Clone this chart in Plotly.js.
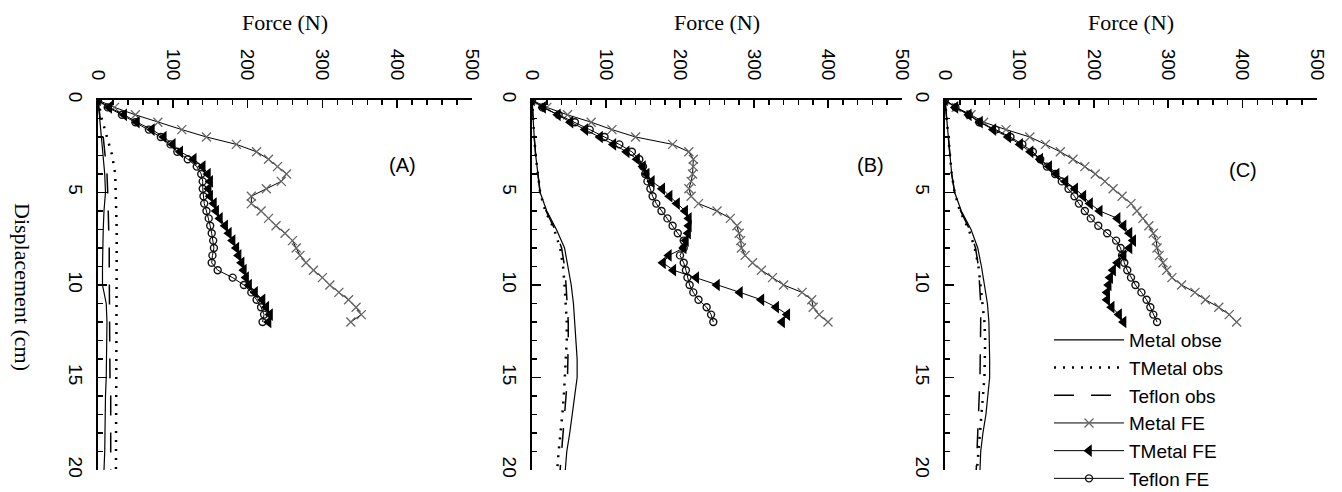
<!DOCTYPE html>
<html>
<head>
<meta charset="utf-8">
<script src="https://cdn.plot.ly/plotly-3.0.1.min.js"></script>
<style>html,body{margin:0;padding:0;background:#fff;}#chart{width:1342px;height:492px;}</style>
</head>
<body>
<div id="chart"></div>
<script>
// Displacement (cm) sample positions
const dispFE = [0,0.4,0.8,1.2,1.6,2.0,2.4,2.8,3.2,3.6,4.0,4.4,4.8,5.2,5.6,6.0,6.4,6.8,7.2,7.6,8.0,8.4,8.8,9.2,9.6,10.0,10.4,10.8,11.2,11.6,12.0];
const dispObs = [0,1,2,3,4,5,6,7,8,9,10,11,12,13,14,15,16,17,18,19,20];

// Panel A forces (N)
const A_metalObs  = [0,2,4,7,9,10,8,7,6,6,6,11,12,12,12,11,10,10,9,9,8];
const A_tmetalObs = [0,5,12,19,23,24,24,25,25,25,25,25,25,25,25,25,25,25,25,24,24];
const A_teflonObs = [0,3,7,10,12,13,14,14,15,15,15,16,16,16,16,16,17,17,17,17,17];
const A_metalFE  = [0,22,50,80,112,145,185,212,228,240,252,245,225,205,205,218,228,238,250,260,265,270,278,288,300,310,322,335,345,352,338];
const A_tmetalFE = [0,15,35,52,72,88,100,110,128,140,147,150,148,150,155,158,163,170,175,180,185,188,192,195,198,202,210,220,225,230,228];
const A_teflonFE = [0,13,32,50,68,84,97,106,120,132,138,140,140,141,142,145,148,150,152,154,155,153,152,160,180,195,205,212,218,222,220];

// Panel B forces (N)
const B_metalObs  = [0,1,3,5,8,11,20,33,44,49,53,56,58,60,61,61,58,55,51,47,45];
const B_tmetalObs = [0,1,3,5,8,11,18,30,38,42,44,46,47,47,46,45,43,41,38,36,34];
const B_teflonObs = [0,1,3,5,8,11,19,31,40,44,46,48,49,49,49,48,46,44,42,40,38];
const B_metalFE  = [0,20,48,80,108,140,190,212,218,218,217,215,212,215,225,250,268,277,280,282,283,288,298,310,325,340,365,378,380,388,400];
const B_tmetalFE = [0,15,35,52,72,92,110,128,142,150,155,162,176,186,196,207,212,212,211,208,205,185,177,191,222,250,281,310,330,345,338];
const B_teflonFE = [0,14,36,58,78,98,118,135,145,150,153,156,160,163,168,175,183,190,197,205,205,200,205,208,210,213,218,225,236,242,245];

// Panel C forces (N)
const C_metalObs  = [0,2,4,6,9,13,22,35,44,49,53,57,59,60,60,60,58,55,51,48,47];
const C_tmetalObs = [0,2,4,6,9,13,20,32,40,45,48,51,53,54,54,53,51,49,47,45,43];
const C_teflonObs = [0,2,4,6,9,13,21,33,41,45,47,48,48,48,48,47,46,45,44,43,42];
const C_metalFE  = [0,15,35,52,82,114,135,155,172,188,202,215,226,238,250,258,266,274,280,284,285,288,293,298,305,318,336,350,368,382,392];
const C_tmetalFE = [0,14,32,47,65,85,101,115,128,140,150,162,175,186,195,208,232,240,248,253,248,240,232,226,222,220,218,218,224,234,240];
const C_teflonFE = [0,14,32,46,68,88,104,118,128,137,148,157,166,174,180,188,196,206,218,230,236,238,241,245,250,256,264,271,276,280,285];

const seriesNames = ['Metal obse','TMetal obs','Teflon obs','Metal FE','TMetal FE','Teflon FE'];
const panelLabels = ['(A)','(B)','(C)'];
const forceTicks = [0,100,200,300,400,500];

const panels = [
  {obs:[A_metalObs,A_tmetalObs,A_teflonObs], fe:[A_metalFE,A_tmetalFE,A_teflonFE]},
  {obs:[B_metalObs,B_tmetalObs,B_teflonObs], fe:[B_metalFE,B_tmetalFE,B_teflonFE]},
  {obs:[C_metalObs,C_tmetalObs,C_teflonObs], fe:[C_metalFE,C_tmetalFE,C_teflonFE]}
];

const obsDash = ['solid','2px,7px','20px,17px'];
const obsWidth = [1.2,2.5,1.5];
const feMarker = [
  {symbol:'x-thin-open', size:9, color:'#666', line:{width:1.3,color:'#666'}},
  {symbol:'triangle-left', size:11, color:'#000', line:{width:0}},
  {symbol:'circle-open', size:7, color:'#111', line:{width:1.4,color:'#111'}}
];

const traces = [];
panels.forEach((p,i)=>{
  const xa = i===0?'x':'x'+(i+1), ya = i===0?'y':'y'+(i+1);
  p.obs.forEach((vals,k)=>{
    traces.push({x:vals, y:dispObs, xaxis:xa, yaxis:ya, type:'scatter', mode:'lines',
      name:seriesNames[k], legendrank:k+1, showlegend:i===2,
      line:{color:'#000', width:obsWidth[k], dash:obsDash[k]}});
  });
  [0,2,1].forEach(k=>{
    traces.push({x:p.fe[k], y:dispFE, xaxis:xa, yaxis:ya, type:'scatter', mode:'lines+markers',
      name:seriesNames[k+3], legendrank:k+4, showlegend:i===2,
      line:{color:'#000', width:1}, marker:feMarker[k]});
  });
});

const W=1342, H=492, TOP=100, BOT=470;
const py = v => (BOT - v)/(BOT - TOP);   // pixel row -> paper y
const domains = [[98/W,472/W],[532/W,902/W],[945/W,1317/W]];
const tickFont = {family:'"Liberation Sans", Arial, sans-serif', size:19, color:'#000'};
const layout = {
  width:W, height:H, paper_bgcolor:'#fff', plot_bgcolor:'#fff',
  margin:{l:0,r:0,t:TOP,b:H-BOT,autoexpand:false},
  showlegend:true,
  legend:{x:1049/W, y:py(321), xanchor:'left', yanchor:'top', bgcolor:'rgba(0,0,0,0)',
    font:{family:'"Liberation Sans", Arial, sans-serif', size:19, color:'#000'},
    itemwidth:70, tracegroupgap:0},
  annotations:[],
  font:{family:'"Liberation Sans", Arial, sans-serif', color:'#000'}
};
domains.forEach((dom,i)=>{
  const sfx = i===0?'':String(i+1);
  layout['xaxis'+sfx] = {
    domain:dom, range:[0,500], side:'top', anchor:'y'+sfx,
    tickvals:forceTicks, ticktext:forceTicks.map(String), tickangle:90,
    ticks:'inside', ticklen:8, tickwidth:1.5, tickcolor:'#000',
    minor:{dtick:20, ticks:'inside', ticklen:5, tickwidth:1.5, tickcolor:'#000'},
    showline:true, linecolor:'#000', linewidth:2, showgrid:false, zeroline:false,
    tickfont:tickFont, ticklabelstandoff:11,
    title:{text:'Force (N)', font:{family:'"Liberation Serif", "Times New Roman", serif', size:22, color:'#000'}, standoff:12}
  };
  layout['yaxis'+sfx] = {
    domain:[0,1], range:[20,0], anchor:'x'+sfx,
    tickvals:[0,5,10,15,20], tickangle:90,
    ticks:'inside', ticklen:9, tickwidth:1.5, tickcolor:'#000',
    minor:{dtick:1, ticks:'inside', ticklen:5, tickwidth:1.5, tickcolor:'#000'},
    showline:true, linecolor:'#000', linewidth:2, showgrid:false, zeroline:false,
    tickfont:tickFont, ticklabelstandoff:4
  };
});
const labelPos = [[402,165],[870,165],[1243,170]];
panelLabels.forEach((t,i)=>{
  layout.annotations.push({text:t, xref:'paper', yref:'paper', x:labelPos[i][0]/W, y:py(labelPos[i][1]),
    showarrow:false, xanchor:'center', yanchor:'middle',
    font:{family:'"Liberation Sans", Arial, sans-serif', size:20, color:'#000'}});
});
layout.annotations.push({text:'Displacement (cm)', xref:'paper', yref:'paper', x:23/W, y:py(287),
  showarrow:false, textangle:90, xanchor:'center', yanchor:'middle',
  font:{family:'"Liberation Serif", "Times New Roman", serif', size:22, color:'#000'}});

Plotly.newPlot('chart', traces, layout, {displayModeBar:false, staticPlot:true});
</script>
</body>
</html>
